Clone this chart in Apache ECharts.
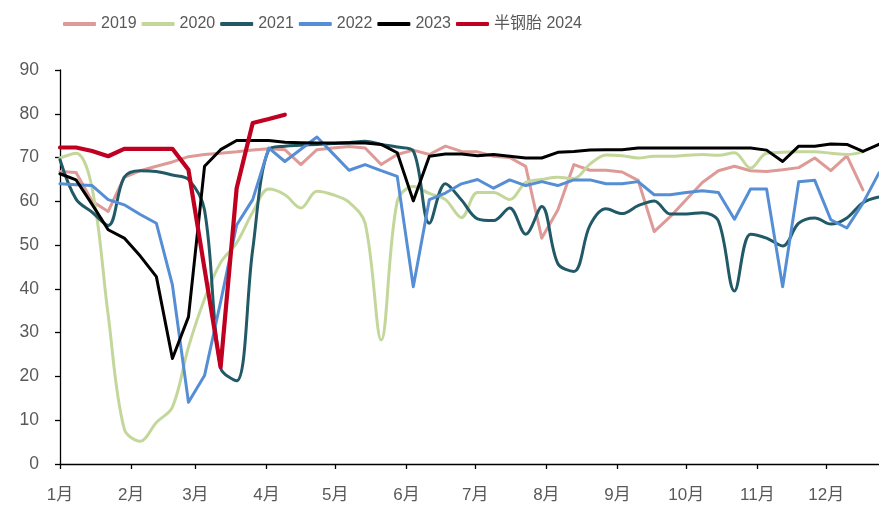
<!DOCTYPE html>
<html>
<head>
<meta charset="utf-8">
<script src="https://cdn.jsdelivr.net/npm/echarts@6/dist/echarts.min.js"></script>
<style>
html,body{margin:0;padding:0;background:#fff;}
#c{width:879px;height:507px;}
</style>
</head>
<body>
<div id="c"></div>
<script>
// Month labels and their start day-of-year
var monthLabels = ['1月','2月','3月','4月','5月','6月','7月','8月','9月','10月','11月','12月'];
var monthStartDays = [0,31,59,90,120,151,181,212,243,273,304,334];
var weekStep = 7;

var seriesNames = ['2019','2020','2021','2022','2023','半钢胎 2024'];

var v2019 = [66.8,66.6,60,57.7,65.5,67,68,69,70.2,70.7,71,71.3,71.7,72,71.8,68.4,71.8,72.2,72.5,72.2,68.4,70.7,71.7,70.7,72.6,71.4,71.3,70.3,70,68,51.6,58,68.4,67.1,67.1,66.7,64.8,53.1,56.5,60.4,64.3,67,68,67,66.8,67.2,67.7,69.9,67,70.4,62.6];
var v2020 = [69.9,71,63,34,8,5.2,9.5,13,26.7,37.7,46,50.5,57.5,62.8,61.5,58.5,62.3,61.5,59.8,55,28.3,60,63.4,61.8,60.4,56.3,62,62,60.4,64.3,65,65.5,65.2,68.5,70.6,70.4,69.9,70.3,70.3,70.5,70.7,70.5,71.1,67.6,71,71.2,71.3,71.3,71,70.7,71.3];
var v2021 = [69.5,60.5,57.5,54.5,65.5,67,66.8,66,65,58,22,19,49,71.8,72.6,72.8,73,73.2,73.4,73.7,73,72.4,71.5,55,64,60.3,56,55.6,58.5,52.5,58.8,45.8,44,54.5,58.3,57.2,59,60.1,57.1,57.1,57.4,55.5,39.5,52.5,51.6,49.8,55,56.2,54.8,56.2,59.7,61];
var v2022 = [64,63.8,63.6,60.4,59.2,57,55,40.9,14.1,20.2,37,54.6,60.4,72.2,69.1,71.9,74.7,70.9,67.1,68.4,67,65.7,40.5,60.4,61.9,64,65,63,64.9,63.6,64.5,63.6,64.9,64.9,64,64,64.5,61.5,61.5,62,62.4,62,55.9,62.8,62.8,40.5,64.5,64.8,55.8,53.9,59.6,66.5];
var v2023 = [66.3,64.9,59.3,53.5,51.6,47.5,42.8,24.1,33.6,68,71.8,73.9,73.9,73.9,73.5,73.4,73.3,73.3,73.4,73.3,73,71.1,60.1,70.3,70.8,70.8,70.4,70.7,70.3,69.9,69.9,71.2,71.4,71.7,71.8,71.8,72.2,72.2,72.2,72.2,72.2,72.2,72.2,72.2,71.7,69.1,72.6,72.6,73.1,73,71.4,73];
var v2024 = [72.3,72.3,71.5,70.3,72,72,72,72,67.2,44.6,22.1,63,77.9,78.8,79.8];

var yTicks = [0,10,20,30,40,50,60,70,80,90];

var colors = ['#DD9A97','#C4D79B','#215A66','#558ED5','#000000','#C00020'];
var widths = [3,3,3,3,3,4.2];
var smooths = [false,0.35,0.35,false,false,false];
var allValues = [v2019,v2020,v2021,v2022,v2023,v2024];

function toPairs(vals){
  return vals.map(function(v,i){ return [i*weekStep, v]; });
}

var series = seriesNames.map(function(name, k){
  return {
    name: name,
    type: 'line',
    data: toPairs(allValues[k]),
    symbol: 'none',
    smooth: smooths[k],
    clip: true,
    lineStyle: { color: colors[k], width: widths[k], cap: 'round', join: 'round' },
    itemStyle: { color: colors[k] },
    emphasis: { disabled: true }
  };
});

var chart = echarts.init(document.getElementById('c'), null, {renderer:'canvas'});
chart.setOption({
  backgroundColor: '#fff',
  animation: false,
  color: colors,
  legend: {
    data: seriesNames,
    left: 63,
    top: 16,
    padding: 0,
    icon: 'roundRect',
    itemWidth: 33,
    itemHeight: 4,
    itemGap: 5,
    textStyle: { fontSize: 16, color: '#595959', fontFamily: '"Liberation Sans","Noto Sans CJK SC",sans-serif' }
  },
  grid: { left: 60, right: 0, top: 70, bottom: 43, containLabel: false },
  xAxis: {
    type: 'value',
    min: 0,
    max: 357,
    splitLine: { show: false },
    axisLine: { show: true, lineStyle: { color: '#000', width: 1.3 } },
    axisTick: { show: true, customValues: monthStartDays, length: 5, lineStyle: { color: '#000', width: 1.3 } },
    axisLabel: {
      customValues: monthStartDays,
      margin: 23,
      fontSize: 17,
      color: '#595959',
      fontFamily: '"Liberation Sans","Noto Sans CJK SC",sans-serif',
      formatter: function(v){ var i = monthStartDays.indexOf(v); return i >= 0 ? monthLabels[i] : ''; }
    }
  },
  yAxis: {
    type: 'value',
    min: 0,
    max: 90,
    interval: 10,
    splitLine: { show: false },
    axisLine: { show: true, lineStyle: { color: '#000', width: 1.3 } },
    axisTick: { show: true, inside: false, length: 5, lineStyle: { color: '#000', width: 1.3 } },
    axisLabel: {
      margin: 21,
      fontSize: 17.5,
      color: '#595959',
      fontFamily: '"Liberation Sans",sans-serif',
      formatter: function(v){ return yTicks.indexOf(v) >= 0 ? String(v) : ''; }
    }
  },
  series: series
});
</script>
</body>
</html>
